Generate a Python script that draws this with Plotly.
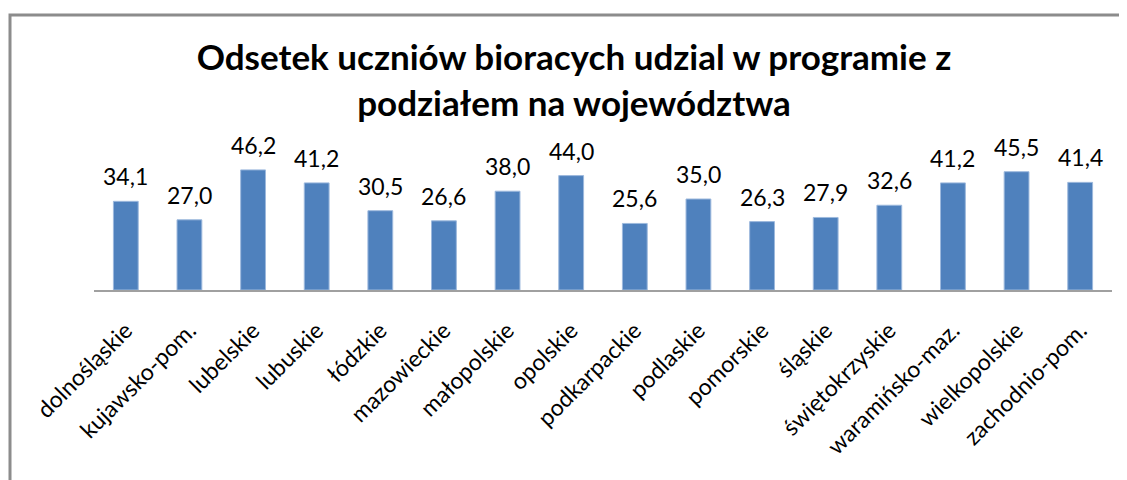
import plotly.graph_objects as go

categories = ["dolnośląskie", "kujawsko-pom.", "lubelskie", "lubuskie", "łódzkie",
              "mazowieckie", "małopolskie", "opolskie", "podkarpackie", "podlaskie",
              "pomorskie", "śląskie", "świętokrzyskie", "waramińsko-maz.", "wielkopolskie",
              "zachodnio-pom."]
values = [34.1, 27.0, 46.2, 41.2, 30.5, 26.6, 38.0, 44.0, 25.6, 35.0, 26.3, 27.9, 32.6, 41.2, 45.5, 41.4]
title_text = "Odsetek uczniów bioracych udzial w programie z<br>podziałem na województwa"

FONT = "Lato"
OFF = 8  # page body margin offset

L, R_EDGE, TOP, BASE = 94 - OFF, 1112 - OFF, 160 - OFF, 290 - OFF
PW, PH = R_EDGE - L, BASE - TOP

fig = go.Figure()
fig.add_trace(go.Bar(x=categories, y=values, width=0.39,
                     marker=dict(color="#4F81BD", line=dict(color="#9DB9DD", width=1))))

for c, v in zip(categories, values):
    fig.add_annotation(x=c, y=v, text=f"{v:.1f}".replace(".", ","), showarrow=False,
                       yanchor="bottom", yshift=9, font=dict(size=23, color="black", family=FONT))

fig.update_layout(
    width=1127, height=480,
    margin=dict(l=L, r=1127 - R_EDGE, t=TOP, b=480 - BASE, autoexpand=False),
    paper_bgcolor="white", plot_bgcolor="white",
    showlegend=False,
    title=dict(text=title_text, x=(574 - OFF) / 1127, xref="container", xanchor="center",
               y=1 - 62 / 480, yref="container", yanchor="top",
               font=dict(family=FONT, size=35, color="black", weight="bold")),
    font=dict(family=FONT, color="black"),
    xaxis=dict(showline=True, linecolor="#A0A0A0", linewidth=2, tickangle=-45, automargin=False,
               tickfont=dict(size=23, family=FONT), ticks="", ticklabelstandoff=16),
    yaxis=dict(visible=False, range=[0, 50], automargin=False),
)

# outer chart border (extends past the right and bottom of the image)
fig.add_shape(type="rect", xref="paper", yref="paper",
              x0=(10 - OFF - L) / PW, x1=(1160 - L) / PW,
              y0=(BASE - 520) / PH, y1=(BASE - (15 - OFF)) / PH,
              line=dict(color="#8C8C8C", width=3), fillcolor="rgba(0,0,0,0)", layer="below")

fig.write_html("out.html")
